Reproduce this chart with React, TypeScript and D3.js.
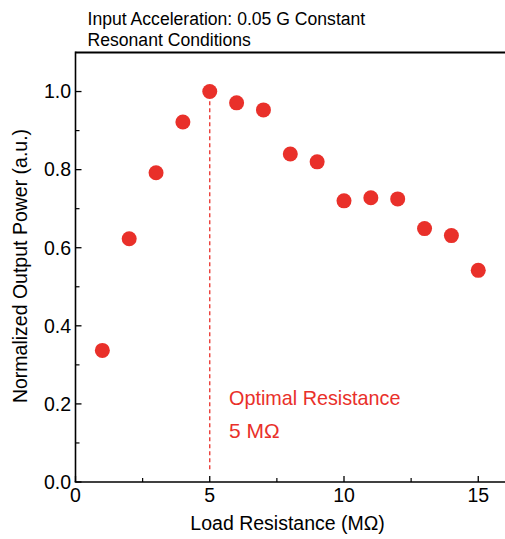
import React from "react";
import * as d3 from "d3";

const resistance = [1, 2, 3, 4, 5, 6, 7, 8, 9, 10, 11, 12, 13, 14, 15];
const power = [0.337, 0.623, 0.792, 0.922, 1.0, 0.971, 0.953, 0.84, 0.82, 0.72, 0.728, 0.725, 0.649, 0.631, 0.542];
const xTicks = [0, 5, 10, 15];
const xMinor = [2.5, 7.5, 12.5];
const yTicks = [0, 0.2, 0.4, 0.6, 0.8, 1.0];
const yMinor = [0.1, 0.3, 0.5, 0.7, 0.9];
const titleLines = ["Input Acceleration: 0.05 G Constant", "Resonant Conditions"];
const annotation = ["Optimal Resistance", "5 MΩ"];
const optimal = 5;

const W = 505;
const H = 539;
const left = 75.5;
const bottom = 482;
const top = 52.5;
const FONT = "'Liberation Sans', Arial, Helvetica, sans-serif";
const RED = "#e9302a";

export default function App() {
  const x = d3.scaleLinear().domain([0, 16]).range([left, left + 16 * 26.85]);
  const y = d3.scaleLinear().domain([0, 1.1]).range([bottom, top]);
  const right = W + 2;
  return (
    <svg width={W} height={H} style={{ position: "absolute", left: 0, top: 0, background: "#fff" }} fontFamily={FONT}>
      {/* title */}
      <text x={87.5} y={25} fontSize={17.6} fill="#000">{titleLines[0]}</text>
      <text x={87.5} y={46} fontSize={17.6} fill="#000">{titleLines[1]}</text>

      {/* dashed line */}
      <line x1={x(optimal)} x2={x(optimal)} y1={y(0.975)} y2={y(0.03)} stroke={RED} strokeWidth={1.3} strokeDasharray="4,3" />

      {/* axes */}
      <line x1={left} x2={right} y1={y(1.1)} y2={y(1.1)} stroke="#000" strokeWidth={2} />
      <line x1={left} x2={left} y1={y(1.1) - 1} y2={bottom} stroke="#000" strokeWidth={1.6} />
      <line x1={left - 0.8} x2={right} y1={bottom} y2={bottom} stroke="#000" strokeWidth={1.6} />

      {yTicks.map((t) => (
        <g key={"y" + t}>
          <line x1={left} x2={left + 6} y1={y(t)} y2={y(t)} stroke="#000" strokeWidth={1.3} />
          <text x={71} y={y(t)} dy="0.35em" textAnchor="end" fontSize={19.5} fill="#000">{t.toFixed(1)}</text>
        </g>
      ))}
      {yMinor.map((t) => (
        <line key={"ym" + t} x1={left} x2={left + 4} y1={y(t)} y2={y(t)} stroke="#000" strokeWidth={1.2} />
      ))}
      {xTicks.map((t) => (
        <g key={"x" + t}>
          <line x1={x(t)} x2={x(t)} y1={bottom} y2={bottom - 6} stroke="#000" strokeWidth={1.3} />
          <text x={x(t)} y={502} textAnchor="middle" fontSize={19.5} fill="#000">{t}</text>
        </g>
      ))}
      {xMinor.map((t) => (
        <line key={"xm" + t} x1={x(t)} x2={x(t)} y1={bottom} y2={bottom - 4} stroke="#000" strokeWidth={1.2} />
      ))}

      {/* axis titles */}
      <text x={x(7.9)} y={530} textAnchor="middle" fontSize={19.5} fill="#000">Load Resistance (MΩ)</text>
      <text transform={`translate(27,${266}) rotate(-90)`} textAnchor="middle" fontSize={19.5} fill="#000">Normalized Output Power (a.u.)</text>

      {/* points */}
      {resistance.map((r, i) => (
        <circle key={r} cx={x(r)} cy={y(power[i])} r={7.5} fill={RED} />
      ))}

      {/* annotation */}
      <text x={229} y={405} fontSize={19.8} fill={RED}>{annotation[0]}</text>
      <text x={229} y={438} fontSize={21} fill={RED}>{annotation[1]}</text>
    </svg>
  );
}
